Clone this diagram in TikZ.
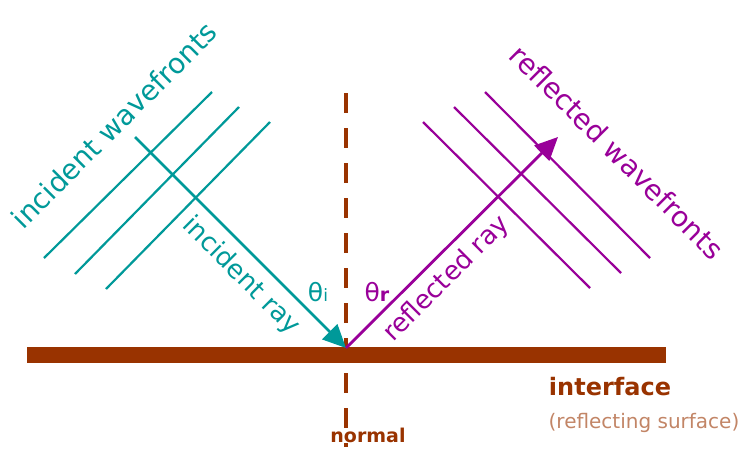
\documentclass[tikz,border=0pt]{standalone}
\usepackage{fontspec}
\setmainfont{DejaVu Sans}
\usetikzlibrary{arrows.meta}
\definecolor{teal1}{HTML}{009999}
\definecolor{purp}{HTML}{990099}
\definecolor{brn}{HTML}{993300}
\begin{document}
\begin{tikzpicture}[x=1pt,y=-1pt,
  wf/.style={line width=2.2pt},
  ray/.style={line width=2.8pt,-{Triangle[length=23pt,width=21pt]}},
  lbl/.style={font=\fontsize{28}{30}\selectfont,inner sep=0pt},
  rl/.style={font=\fontsize{26}{28}\selectfont,inner sep=0pt}]
\useasboundingbox (0,0) rectangle (750,453);
\fill[brn] (27,347) rectangle (666,363);
\draw[brn,line width=4pt,dash pattern=on 20pt off 15pt] (346,93) -- (346,447);
\coordinate (o) at (346,348);
% incident
\coordinate (is) at (135,137);
\foreach \a/\b in {{44,258}/{212,92},{75,274}/{239,107},{106,289}/{270,122}}
  \draw[wf,teal1] (\a) -- (\b);
\draw[ray,teal1] (is) -- (o);
% reflected
\coordinate (rt) at (558,137);
\foreach \a/\b in {{423,122}/{590,288},{454,107}/{621,273},{485,92}/{650,258}}
  \draw[wf,purp] (\a) -- (\b);
\draw[ray,purp] (o) -- (rt);
\node[lbl,teal1,rotate=45] (iw) at (114,125) {incident wavefronts};
\node[rl,teal1,rotate=-45] (ir) at (241,276) {incident ray};
\node[rl,purp,rotate=45] (rr) at (447,279) {reflected ray};
\node[lbl,purp,rotate=-45] (rw) at (617,152) {reflected wavefronts};
\node[teal1,font=\fontsize{25}{28}\selectfont,inner sep=0pt] (ti) at (318,292) {θ{\fontsize{17}{18}\selectfont i}};
\node[purp,font=\fontsize{25}{28}\selectfont,inner sep=0pt] (tr) at (377,292) {θ{\fontsize{19}{18}\selectfont\bfseries r}};
\node[brn,font=\fontsize{24}{26}\selectfont\bfseries,inner sep=0pt] (if) at (610,387) {interface};
\node[brn!60,font=\fontsize{20}{22}\selectfont,inner sep=0pt] (rs) at (644,423) {(reflecting surface)};
\node[brn,font=\fontsize{19}{22}\selectfont\bfseries,inner sep=0pt] (nm) at (368,435) {normal};
\end{tikzpicture}
\end{document}
